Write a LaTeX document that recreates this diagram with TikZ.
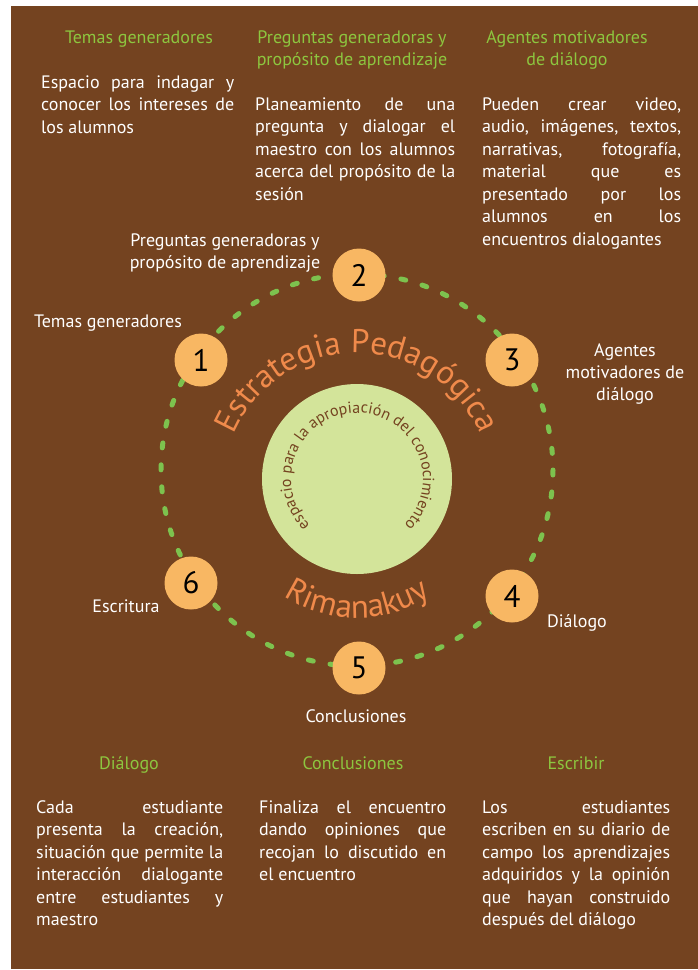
\documentclass[tikz,border=0pt]{standalone}
\usepackage{fontspec}
\setmainfont{PT Sans}
\usetikzlibrary{positioning,decorations.text}
\definecolor{bgbrown}{HTML}{744320}
\definecolor{dotorange}{HTML}{F8B763}
\definecolor{ringgreen}{HTML}{7DC24E}
\definecolor{headgreen}{HTML}{8DC63F}
\definecolor{arcorange}{HTML}{F08A4B}
\definecolor{coregreen}{HTML}{D3E49A}
\tolerance=10000
\hyphenpenalty=10000
\tikzset{
  heading/.style  = {text=headgreen, font=\fontsize{18}{22}\selectfont,
                     align=center, anchor=base, inner sep=0pt},
  bodytext/.style = {text=white, anchor=base west, inner sep=0pt, align=justify,
                     font=\fontsize{18}{22.5}\selectfont},
  ringlabel/.style= {text=white, font=\fontsize{18}{22}\selectfont,
                     align=center, anchor=base, inner sep=0pt},
  stepdot/.style  = {circle, fill=dotorange, minimum size=53pt, inner sep=0pt,
                     text=black, font=\fontsize{31}{31}\selectfont},
  ringdash/.style = {ringgreen, line width=5pt, line cap=round,
                     dash pattern=on 5pt off 17pt},
}
\newcommand{\arcfont}{\fontsize{33}{33}\selectfont}
\newcommand{\corefont}{\fontsize{16}{16}\selectfont}

\begin{document}
\begin{tikzpicture}[x=1pt,y=-1pt]
\useasboundingbox (0,0) rectangle (698,970);
\fill[white] (0,0) rectangle (698,970);
\fill[bgbrown] (11,6) rectangle (698,969);
% top headings and texts (multi-line nodes sit on their last line)
\node[heading] (h1) at (139,43) {Temas generadores};
\node[heading] (h2) at (352,65) {Preguntas generadoras y\\propósito de aprendizaje};
\node[heading] (h3) at (567,65) {Agentes motivadores\\de diálogo};
\node[bodytext, text width=193pt] (t1) at (41,88)
  {Espacio para indagar y\linebreak conocer los intereses de\linebreak los alumnos};
\node[bodytext, text width=200pt] (t2) at (255,110)
  {Planeamiento de una\linebreak pregunta y dialogar el\linebreak maestro con los alumnos\linebreak
   acerca del propósito de la\linebreak sesión};
\node[bodytext, text width=199pt] (t3) at (482,110)
  {Pueden crear video,\linebreak audio, imágenes, textos,\linebreak narrativas, fotografía,\linebreak
   material que es\linebreak presentado por los\linebreak alumnos en los\linebreak encuentros dialogantes};
% the ring
\coordinate (ring) at (357,470);
\coordinate (core) at (357,479);
\draw[ringdash] (ring) circle[radius=196];
\fill[coregreen] (core) circle[radius=95];
\path[decorate, decoration={text along path, text align=center, text color=arcorange,
      text={|\arcfont|Estrategia Pedagógica}}, shift={(357,487)}]
  (-175:134) arc[start angle=-175, end angle=-5, radius=134];
\path[decorate, decoration={text along path, text align=center, text color=arcorange,
      text={|\arcfont|Rimanakuy}}, shift={(357,485)}]
  (-200:133) arc[start angle=-200, end angle=-340, radius=133];
\path[decorate, decoration={text along path, text align=center, text color=bgbrown,
      text={|\corefont|espacio para la apropiación del conocimiento}}, shift={(357,479)}]
  (-228:66) arc[start angle=-228, end angle=48, radius=66];
\node[stepdot] (n1) at (201,360) {1};
\node[stepdot] (n2) at (359,275) {2};
\node[stepdot] (n3) at (512,360) {3};
\node[stepdot] (n4) at (512,596) {4};
\node[stepdot] (n5) at (359,668) {5};
\node[stepdot] (n6) at (191,583) {6};
\node[ringlabel] (l2) at (225,268) {Preguntas generadoras y\\propósito de aprendizaje};
\node[ringlabel] (l1) at (108,327) {Temas generadores};
\node[ringlabel] (l3) at (625,400) {Agentes\\motivadores de\\diálogo};
\node[ringlabel] (l4) at (577,627) {Diálogo};
\node[ringlabel] (l5) at (356,722) {Conclusiones};
\node[ringlabel] (l6) at (126,612) {Escritura};
% bottom headings and texts
\node[heading] (h4) at (129,769) {Diálogo};
\node[heading] (h5) at (353,769) {Conclusiones};
\node[heading] (h6) at (576,769) {Escribir};
\node[bodytext, text width=187pt] (t4) at (36,813)
  {Cada estudiante\linebreak presenta la creación,\linebreak situación que permite la\linebreak
   interacción dialogante\linebreak entre estudiantes y\linebreak maestro};
\node[bodytext, text width=187pt] (t5) at (259,813)
  {Finaliza el encuentro\linebreak dando opiniones que\linebreak recojan lo discutido en\linebreak el encuentro};
\node[bodytext, text width=188pt] (t6) at (482,813)
  {Los estudiantes\linebreak escriben en su diario de\linebreak campo los aprendizajes\linebreak
   adquiridos y la opinión\linebreak que hayan construido\linebreak después del diálogo};
\end{tikzpicture}
\end{document}
